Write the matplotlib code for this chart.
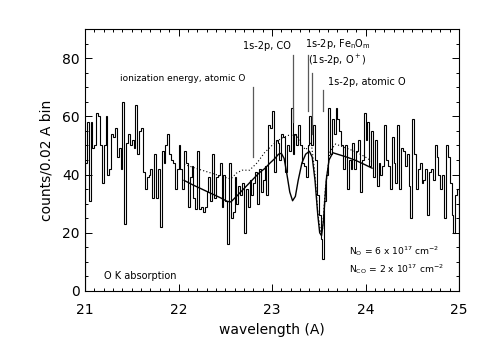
import numpy as np
import matplotlib
matplotlib.use("Agg")
import matplotlib.pyplot as plt
from matplotlib.ticker import MultipleLocator

plt.rcParams['mathtext.default'] = 'regular'
plt.rcParams['font.family'] = ['DejaVu Sans']

# histogram: counts per 0.02 A bin from 21.00 to 25.00 A
wl_start, wl_end = 21.0, 25.0
counts = [
    44, 58, 31, 58, 49, 50, 61, 60, 50, 37, 50, 60, 40, 42, 54, 53, 56, 46, 49, 42,
    65, 23, 51, 54, 50, 52, 49, 64, 47, 55, 56, 41, 35, 39, 40, 42, 32, 47, 32, 42,
    22, 48, 44, 50, 54, 47, 45, 44, 35, 42, 50, 42, 35, 48, 44, 29, 39, 43, 32, 28,
    48, 28, 29, 27, 29, 34, 39, 31, 47, 32, 39, 40, 44, 29, 40, 31, 16, 44, 25, 27,
    39, 30, 36, 33, 37, 20, 35, 29, 38, 33, 37, 41, 30, 42, 34, 38, 43, 33, 57, 56,
    62, 41, 52, 51, 45, 54, 53, 41, 50, 48, 63, 47, 54, 50, 57, 50, 44, 43, 39, 50,
    60, 50, 57, 45, 33, 26, 18, 11, 31, 40, 63, 47, 59, 54, 63, 59, 55, 50, 42, 50,
    35, 45, 42, 51, 42, 48, 52, 34, 45, 61, 52, 58, 43, 55, 39, 52, 36, 44, 40, 43,
    57, 45, 43, 35, 53, 44, 37, 57, 35, 49, 48, 43, 47, 36, 25, 59, 47, 35, 42, 44,
    37, 38, 42, 26, 41, 42, 38, 50, 46, 40, 35, 40, 25, 50, 46, 37, 26, 20, 33, 35,
]

# model curves (solid: fitted model, dotted: model without features)
model_wl = [22.06, 22.15, 22.25, 22.35, 22.45, 22.52, 22.56, 22.62, 22.68, 22.74,
            22.80, 22.86, 22.92, 22.98, 23.03, 23.07, 23.10, 23.13, 23.16, 23.19,
            23.22, 23.25, 23.28, 23.32, 23.36, 23.40, 23.43, 23.46, 23.49, 23.51,
            23.53, 23.55, 23.58, 23.61, 23.65, 23.70, 23.80, 23.90, 24.00, 24.07]
model_val = [38.0, 36.5, 35.0, 33.5, 32.0, 30.8, 30.6, 32.5, 34.5, 36.5,
             38.5, 40.5, 42.0, 44.0, 45.5, 47.0, 47.3, 45.5, 40.0, 34.0,
             31.0, 32.5, 38.0, 44.0, 47.0, 48.0, 46.0, 38.0, 26.0, 20.0,
             19.0, 24.0, 38.0, 45.0, 47.5, 47.0, 46.0, 44.8, 43.3, 42.2]

cont_wl = [22.06, 22.20, 22.35, 22.50, 22.56, 22.62, 22.68, 22.76, 22.84, 22.92,
           23.00, 23.10, 23.18, 23.26, 23.32, 23.36, 23.42, 23.46, 23.49, 23.52,
           23.54, 23.57, 23.62, 23.68, 23.80, 23.90, 24.00, 24.07]
cont_val = [43.5, 42.0, 40.5, 39.0, 38.5, 40.5, 41.5, 41.5, 44.0, 47.5,
            50.0, 52.5, 53.5, 53.5, 50.0, 48.5, 51.0, 40.0, 27.0, 20.0,
            21.0, 35.0, 48.0, 50.5, 49.0, 47.8, 46.0, 44.5]

# line identifications: (wavelength, line bottom, line top)
ion_wl, ion_lo, ion_hi = 22.80, 46, 70
co_wl, co_lo, co_hi = 23.22, 58, 81
feo_wl, feo_lo, feo_hi = 23.38, 62, 81
op_wl, op_lo, op_hi = 23.43, 54, 75
ato_wl, ato_lo, ato_hi = 23.55, 62, 69

fig = plt.figure(figsize=(4.9, 3.5), dpi=100)
ax = fig.add_axes([85/490, 1-291/350, 374/490, 262/350])

edges = np.linspace(wl_start, wl_end, len(counts) + 1)
ax.stairs(counts, edges, color='black', lw=0.8)
ax.plot(model_wl, model_val, color='black', lw=1.0)
ax.plot(cont_wl, cont_val, color='black', lw=0.8, ls=(0, (1, 2)))

lc = '0.35'
for wl, lo, hi in [(ion_wl, ion_lo, ion_hi), (co_wl, co_lo, co_hi),
                   (feo_wl, feo_lo, feo_hi), (op_wl, op_lo, op_hi),
                   (ato_wl, ato_lo, ato_hi)]:
    ax.plot([wl, wl], [lo, hi], color=lc, lw=0.9)

fs = 7
ax.text(ion_wl - 0.08, 71.5, 'ionization energy, atomic O', fontsize=6.5,
        ha='right', va='bottom')
ax.text(co_wl - 0.02, 82.5, '1s-2p, CO', fontsize=fs, ha='right', va='bottom')
ax.text(feo_wl - 0.03, 82.5, '1s-2p, Fe$_n$O$_m$', fontsize=fs, ha='left', va='bottom')
ax.text(op_wl - 0.05, 76.5, '(1s-2p, O$^+$)', fontsize=fs, ha='left', va='bottom')
ax.text(ato_wl + 0.05, 70.0, '1s-2p, atomic O', fontsize=fs, ha='left', va='bottom')
ax.text(21.2, 5, 'O K absorption', fontsize=fs, ha='left', va='center')
ax.text(23.82, 13.6, 'N$_O$ = 6 x 10$^{17}$ cm$^{-2}$', fontsize=6.6, ha='left', va='center')
ax.text(23.82, 7.4, 'N$_{CO}$ = 2 x 10$^{17}$ cm$^{-2}$', fontsize=6.6, ha='left', va='center')

ax.set_xlim(wl_start, wl_end)
ax.set_ylim(0, 90)
ax.xaxis.set_major_locator(MultipleLocator(1))
ax.xaxis.set_minor_locator(MultipleLocator(0.1))
ax.yaxis.set_major_locator(MultipleLocator(20))
ax.yaxis.set_minor_locator(MultipleLocator(5))
ax.tick_params(which='both', direction='in', top=True, right=True, width=0.7)
ax.tick_params(which='major', length=5)
ax.tick_params(which='minor', length=2.5)
ax.tick_params(axis='x', which='major', pad=9, labelsize=10)
ax.tick_params(axis='y', which='major', pad=4, labelsize=10)
for s in ax.spines.values():
    s.set_linewidth(0.8)

ax.set_xlabel('wavelength (A)', fontsize=10, labelpad=4)
ax.set_ylabel('counts/0.02 A bin', fontsize=10, labelpad=6)

fig.savefig('out.png', dpi=100)
